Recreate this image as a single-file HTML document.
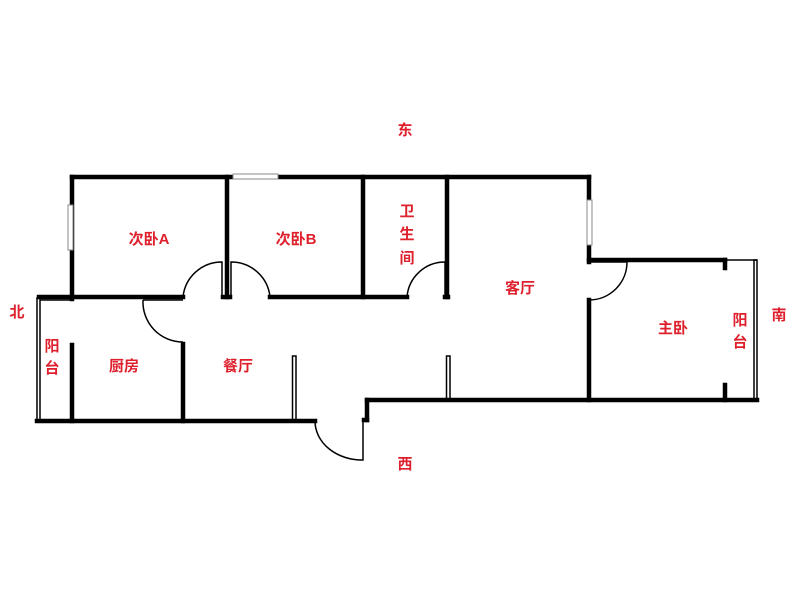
<!DOCTYPE html>
<html><head><meta charset="utf-8"><style>
body{margin:0;background:#fff;width:800px;height:600px;overflow:hidden}
text{font-family:"Liberation Sans","Noto Sans CJK SC",sans-serif;font-weight:bold;fill:#de1f2c;font-size:15px;text-anchor:middle}
</style></head><body>
<svg width="800" height="600" viewBox="0 0 800 600" xmlns="http://www.w3.org/2000/svg">
<g stroke="#000" stroke-width="4.5" fill="none" stroke-linecap="square">
<line x1="72" y1="177" x2="589" y2="177"/>
<line x1="72" y1="177" x2="72" y2="299"/>
<line x1="227" y1="177" x2="227" y2="297"/>
<line x1="363" y1="177" x2="363" y2="297"/>
<line x1="447" y1="177" x2="447" y2="297"/>
<line x1="589" y1="177" x2="589" y2="262"/>
<line x1="39" y1="297" x2="183" y2="297"/>
<line x1="270" y1="297" x2="407" y2="297"/>
<line x1="445" y1="297" x2="448" y2="297"/>
<line x1="223" y1="297" x2="230" y2="297"/>
<line x1="72" y1="345" x2="72" y2="421"/>
<line x1="183" y1="344" x2="183" y2="421"/>
<line x1="37" y1="421" x2="315" y2="421"/>
<line x1="367" y1="400" x2="367" y2="420"/>
<line x1="364" y1="420" x2="367" y2="420"/>
<line x1="367" y1="400" x2="757" y2="400"/>
<line x1="589" y1="300" x2="589" y2="400"/>
<line x1="589" y1="260" x2="725" y2="260"/>
<line x1="725" y1="260" x2="725" y2="268"/>
<line x1="725" y1="385" x2="725" y2="400"/>
</g>
<g stroke="#000" stroke-width="1.5" fill="none">
<path d="M183 297 A39 39 0 0 1 222 262 L222 297"/>
<path d="M231 297 L231 262 A39 39 0 0 1 270 297"/>
<path d="M407 297 A38 38 0 0 1 445 262 L445 297"/>
<path d="M143 300 L183 300 M143 300 A40 40 0 0 0 183 342"/>
<path d="M315 421 A47 39 0 0 0 363 460 L363 421"/>
<path d="M589 262 L627 262 A38 38 0 0 1 589 300"/>
<rect x="292.5" y="356" width="3.5" height="65"/>
<rect x="446.5" y="356" width="3.5" height="44"/>
<rect x="37" y="298" width="3" height="123"/>
<rect x="754" y="260" width="3" height="140"/>
<line x1="725" y1="260" x2="757" y2="260"/>
<line x1="40" y1="300" x2="70" y2="300"/>
</g>
<g stroke="#888" stroke-width="1" fill="#fff">
<rect x="233" y="174" width="45" height="5"/>
<rect x="68" y="205" width="5" height="45"/>
<rect x="587" y="200" width="5" height="45"/>
</g>
<text x="405" y="135" font-size="17">东</text>
<text x="17" y="317" font-size="17">北</text>
<text x="779" y="320" font-size="17">南</text>
<text x="405" y="469" font-size="17">西</text>
<text x="149" y="244" font-size="16">次卧A</text>
<text x="296" y="244" font-size="16">次卧B</text>
<text x="407" y="216" font-size="14">卫</text>
<text x="407" y="239" font-size="14">生</text>
<text x="407" y="263" font-size="14">间</text>
<text x="520" y="293" font-size="16">客厅</text>
<text x="673" y="333" font-size="16">主卧</text>
<text x="740" y="325" font-size="13">阳</text>
<text x="740" y="347" font-size="13">台</text>
<text x="52" y="351" font-size="13">阳</text>
<text x="52" y="373" font-size="13">台</text>
<text x="124" y="371" font-size="13">厨房</text>
<text x="238" y="371" font-size="13">餐厅</text>
</svg>
</body></html>
